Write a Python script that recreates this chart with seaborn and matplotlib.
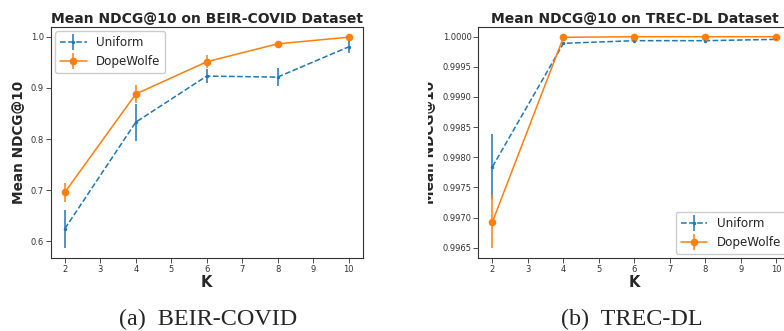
import numpy as np
import pandas as pd
import matplotlib
matplotlib.use("Agg")
import matplotlib.pyplot as plt
import seaborn as sns
from matplotlib.lines import Line2D
from matplotlib.legend_handler import HandlerTuple
from matplotlib.patches import Rectangle

# ---- data ----
K = [2, 4, 6, 8, 10]
covid_uniform = [0.625, 0.833, 0.923, 0.921, 0.980]
covid_uniform_err = [0.037, 0.036, 0.013, 0.017, 0.011]
covid_dope = [0.696, 0.888, 0.951, 0.986, 0.999]
covid_dope_err = [0.019, 0.018, 0.013, 0.003, 0.003]

trec_uniform = [0.997843, 0.99989, 0.999934, 0.999934, 0.999956]
trec_uniform_err = [0.00054, 0.00001, 0.000005, 0.000005, 0.000005]
trec_dope = [0.99693, 0.99999, 1.0, 1.0, 1.0]
trec_dope_err = [0.00044, 0.000005, 0.000002, 0.000002, 0.000002]

titles = ["Mean NDCG@10 on BEIR-COVID Dataset", "Mean NDCG@10 on TREC-DL Dataset"]
captions = ["(a)  BEIR-COVID", "(b)  TREC-DL"]
series_names = ["Uniform", "DopeWolfe"]

sns.set_style("ticks")
plt.rcParams["font.family"] = ["DejaVu Sans"]
pal = sns.color_palette("tab10")
c_uni, c_dope = pal[0], pal[1]

W, H = 784, 331
fig = plt.figure(figsize=(7.84, 3.31), dpi=100)
ax1 = fig.add_axes([50.7 / W, 1 - 258.3 / H, 312.0 / W, 231.6 / H])
ax2 = fig.add_axes([478.3 / W, 1 - 258.3 / H, 312.2 / W, 231.6 / H])


def draw(ax, uni, uni_err, dope, dope_err):
    df = pd.DataFrame({
        "K": K * 2,
        "val": list(uni) + list(dope),
        "method": [series_names[0]] * len(K) + [series_names[1]] * len(K),
    })
    sns.lineplot(data=df[df.method == "Uniform"], x="K", y="val", ax=ax,
                 color=c_uni, linestyle="--", marker=".", markersize=5,
                 markeredgewidth=0, linewidth=1.1, legend=False)
    sns.lineplot(data=df[df.method == "DopeWolfe"], x="K", y="val", ax=ax,
                 color=c_dope, linestyle="-", marker="o", markersize=5.5,
                 markeredgewidth=0, linewidth=1.1, legend=False)
    ax.errorbar(K, uni, yerr=uni_err, fmt="none", ecolor=c_uni, elinewidth=1.1)
    ax.errorbar(K, dope, yerr=dope_err, fmt="none", ecolor=c_dope, elinewidth=1.1)
    for s in ax.spines.values():
        s.set_linewidth(0.8)
        s.set_color("#333333")
    ax.tick_params(labelsize=6, length=3.3, width=0.6, colors="#333333", pad=1.6)
    ax.set_xticks(range(2, 11))
    ax.set_xlim(1.6, 10.4)
    ax.set_xlabel("K", fontsize=10.5, fontweight="bold", labelpad=1)
    ax.set_ylabel("Mean NDCG@10", fontsize=9.8, fontweight="bold")


def legend_handles():
    h1 = (Line2D([], [], color=c_uni, linestyle="--", linewidth=1.1, marker=".",
                 markersize=5, markeredgewidth=0),
          Line2D([], [], color=c_uni, linestyle="none", marker="|", markersize=11,
                 markeredgewidth=1.1))
    h2 = (Line2D([], [], color=c_dope, linestyle="-", linewidth=1.1, marker="o",
                 markersize=5.5, markeredgewidth=0),
          Line2D([], [], color=c_dope, linestyle="none", marker="|", markersize=11,
                 markeredgewidth=1.1))
    return [h1, h2]


draw(ax1, covid_uniform, covid_uniform_err, covid_dope, covid_dope_err)
ax1.set_ylim(0.567, 1.0195)
ax1.set_yticks([0.6, 0.7, 0.8, 0.9, 1.0])
ax1.set_title(titles[0], fontsize=10, fontweight="bold", pad=3)
ax1.yaxis.set_label_coords((26 - 50.7) / 312.0, 0.5)
ax1.legend(legend_handles(), series_names, loc="upper left", fontsize=8.6,
           handler_map={tuple: HandlerTuple(ndivide=1)}, handlelength=2.2,
           borderaxespad=0.4, framealpha=1, edgecolor="#cccccc")

draw(ax2, trec_uniform, trec_uniform_err, trec_dope, trec_dope_err)
ax2.set_ylim(0.996323, 1.000166)
ax2.set_yticks([0.9965, 0.9970, 0.9975, 0.9980, 0.9985, 0.9990, 0.9995, 1.0000])
ax2.set_yticklabels([f"{v:.4f}" for v in ax2.get_yticks()])
ax2.set_title(titles[1], fontsize=10, fontweight="bold", pad=3)
ax2.yaxis.set_label_coords((437 - 478.3) / 312.2, 0.5)
ax2.legend(legend_handles(), series_names, loc="lower right", fontsize=8.6,
           handler_map={tuple: HandlerTuple(ndivide=1)}, handlelength=2.2,
           borderaxespad=0.4, framealpha=1, edgecolor="#cccccc")

# cropping of the right sub-figure (hides the left part of its y label)
fig.add_artist(Rectangle((395 / W, 0.0), (427.5 - 395) / W, 1.0,
                         transform=fig.transFigure, facecolor="white",
                         edgecolor="none", zorder=20))

fig.text(208 / W, 1 - 325 / H, captions[0], ha="center", va="baseline",
         fontsize=17.4, family=["Liberation Serif"])
fig.text(632 / W, 1 - 325 / H, captions[1], ha="center", va="baseline",
         fontsize=17.4, family=["Liberation Serif"])

fig.savefig("out.png", dpi=100)
